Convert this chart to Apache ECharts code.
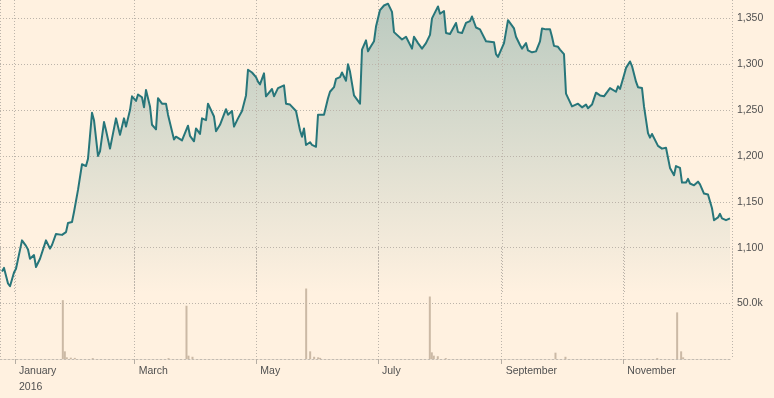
<!DOCTYPE html>
<html>
<head>
<meta charset="utf-8">
<title>Gold 2016</title>
<script src="https://cdn.jsdelivr.net/npm/echarts@6/dist/echarts.min.js"></script>
<style>
  html, body { margin: 0; padding: 0; background: #fff1e0; }
  #main { width: 774px; height: 398px; }
</style>
</head>
<body>
<div id="main"></div>
<script>
// price readings (one per point of the line)
var priceDates = [
  '2015-12-26', '2015-12-27', '2015-12-29', '2015-12-30',
  '2016-01-01', '2016-01-02', '2016-01-05', '2016-01-07', '2016-01-08', '2016-01-09', '2016-01-11', '2016-01-12',
  '2016-01-14', '2016-01-15', '2016-01-17', '2016-01-19', '2016-01-20', '2016-01-22', '2016-01-25', '2016-01-26',
  '2016-01-27', '2016-01-28', '2016-01-30', '2016-01-31',
  '2016-02-02', '2016-02-04', '2016-02-06', '2016-02-07', '2016-02-09', '2016-02-10', '2016-02-12', '2016-02-13',
  '2016-02-15', '2016-02-16', '2016-02-18', '2016-02-21', '2016-02-22', '2016-02-23', '2016-02-25', '2016-02-26',
  '2016-02-28', '2016-02-29',
  '2016-03-02', '2016-03-03', '2016-03-05', '2016-03-06', '2016-03-07', '2016-03-09', '2016-03-10', '2016-03-12',
  '2016-03-13', '2016-03-15', '2016-03-17', '2016-03-18', '2016-03-19', '2016-03-21', '2016-03-22', '2016-03-25',
  '2016-03-28', '2016-03-29', '2016-03-31',
  '2016-04-01', '2016-04-03', '2016-04-04', '2016-04-06', '2016-04-07', '2016-04-08', '2016-04-10', '2016-04-11',
  '2016-04-13', '2016-04-14', '2016-04-16', '2016-04-17', '2016-04-19', '2016-04-20', '2016-04-22', '2016-04-24',
  '2016-04-26', '2016-04-27', '2016-04-29',
  '2016-05-01', '2016-05-02', '2016-05-03', '2016-05-05', '2016-05-06', '2016-05-07', '2016-05-09', '2016-05-10',
  '2016-05-12', '2016-05-13', '2016-05-15', '2016-05-16', '2016-05-18', '2016-05-19', '2016-05-21', '2016-05-23',
  '2016-05-24', '2016-05-25', '2016-05-26', '2016-05-28', '2016-05-29', '2016-05-31',
  '2016-06-01', '2016-06-04', '2016-06-06', '2016-06-07', '2016-06-09', '2016-06-10', '2016-06-12', '2016-06-13',
  '2016-06-15', '2016-06-16', '2016-06-17', '2016-06-19', '2016-06-20', '2016-06-22', '2016-06-23', '2016-06-25',
  '2016-06-26', '2016-06-27', '2016-06-29', '2016-06-30',
  '2016-07-02', '2016-07-04', '2016-07-05', '2016-07-06', '2016-07-08', '2016-07-09', '2016-07-10', '2016-07-13',
  '2016-07-15', '2016-07-16', '2016-07-18', '2016-07-19', '2016-07-21', '2016-07-23', '2016-07-25', '2016-07-27',
  '2016-07-28', '2016-07-29', '2016-07-31',
  '2016-08-01', '2016-08-03', '2016-08-04', '2016-08-06', '2016-08-09', '2016-08-10', '2016-08-12', '2016-08-14',
  '2016-08-16', '2016-08-17', '2016-08-19', '2016-08-21', '2016-08-22', '2016-08-24', '2016-08-25', '2016-08-28',
  '2016-08-29', '2016-08-30', '2016-08-31',
  '2016-09-02', '2016-09-04', '2016-09-05', '2016-09-07', '2016-09-08', '2016-09-10', '2016-09-11', '2016-09-13',
  '2016-09-14', '2016-09-16', '2016-09-18', '2016-09-19', '2016-09-20', '2016-09-21', '2016-09-23', '2016-09-25',
  '2016-09-26', '2016-09-27', '2016-09-29', '2016-09-30',
  '2016-10-02', '2016-10-03', '2016-10-04', '2016-10-06', '2016-10-07', '2016-10-09', '2016-10-11', '2016-10-12',
  '2016-10-13', '2016-10-14', '2016-10-16', '2016-10-18', '2016-10-20', '2016-10-22', '2016-10-23', '2016-10-25',
  '2016-10-26', '2016-10-28', '2016-10-29', '2016-10-30',
  '2016-11-01', '2016-11-02', '2016-11-04', '2016-11-05', '2016-11-07', '2016-11-08', '2016-11-10', '2016-11-11',
  '2016-11-13', '2016-11-14', '2016-11-15', '2016-11-16', '2016-11-18', '2016-11-20', '2016-11-22', '2016-11-23',
  '2016-11-24', '2016-11-26', '2016-11-27', '2016-11-29', '2016-11-30',
  '2016-12-02', '2016-12-03', '2016-12-04', '2016-12-06', '2016-12-08', '2016-12-09', '2016-12-11', '2016-12-12',
  '2016-12-13', '2016-12-15', '2016-12-16', '2016-12-18', '2016-12-19', '2016-12-20', '2016-12-22', '2016-12-23',
  '2016-12-24'
];
var prices = [
  1074, 1078, 1061, 1058,
  1073, 1077, 1108, 1102, 1098, 1088, 1092, 1079,
  1088, 1087, 1108, 1099, 1103, 1115, 1114, 1114,
  1117, 1127, 1128, 1139,
  1163, 1191, 1189, 1197, 1247, 1239, 1200, 1205,
  1237, 1228, 1208, 1241, 1241, 1223, 1241, 1232,
  1250, 1265,
  1260, 1267, 1264, 1253, 1272, 1254, 1234, 1229,
  1263, 1257, 1257, 1245, 1245, 1218, 1221, 1217,
  1233, 1222, 1216,
  1230, 1224, 1241, 1239, 1257, 1256, 1243, 1227,
  1234, 1232, 1251, 1245, 1249, 1232, 1241, 1249,
  1266, 1294, 1291,
  1286, 1281, 1278, 1290, 1265, 1267, 1273, 1265,
  1274, 1275, 1277, 1257, 1256, 1254, 1249, 1228,
  1221, 1230, 1212, 1215, 1212, 1210,
  1245, 1245, 1263, 1270, 1275, 1284, 1286, 1291,
  1282, 1300, 1292, 1266, 1265, 1257, 1316, 1326,
  1314, 1318, 1325, 1341,
  1359, 1364, 1362, 1366, 1357, 1335, 1337, 1327,
  1330, 1331, 1317, 1330, 1323, 1317, 1323, 1332,
  1350, 1352, 1363,
  1355, 1358, 1334, 1333, 1345, 1335, 1334, 1345,
  1347, 1352, 1340, 1338, 1337, 1325, 1323, 1324,
  1311, 1308, 1310,
  1323, 1348, 1346, 1339, 1330, 1321, 1317, 1323,
  1315, 1313, 1314, 1315, 1325, 1339, 1338, 1338,
  1330, 1320, 1319, 1316,
  1311, 1268, 1266, 1254, 1253, 1257, 1253, 1252,
  1256, 1252, 1256, 1269, 1266, 1265, 1263, 1274,
  1272, 1270, 1276, 1273,
  1288, 1296, 1303, 1298, 1281, 1275, 1274, 1254,
  1225, 1220, 1224, 1225, 1211, 1208, 1209, 1209,
  1187, 1179, 1189, 1187, 1171,
  1171, 1175, 1170, 1168, 1172, 1169, 1159, 1161,
  1158, 1143, 1130, 1133, 1137, 1132, 1130, 1128,
  1132
];

// volume readings
var volDates = [
  '2016-01-25', '2016-01-26', '2016-01-27', '2016-01-29', '2016-01-31', '2016-02-09',
  '2016-03-18', '2016-03-27', '2016-03-28', '2016-03-30',
  '2016-05-26', '2016-05-28', '2016-05-30', '2016-06-01', '2016-06-02',
  '2016-07-27', '2016-07-28', '2016-07-29', '2016-07-31', '2016-08-04',
  '2016-09-28', '2016-10-03',
  '2016-11-18', '2016-11-28', '2016-11-30', '2016-12-01'
];
var volumes = [
  53000, 6900, 1500, 1200, 1000, 800,
  800, 48000, 3000, 2000,
  63500, 6900, 2000, 1500, 1000,
  56300, 6000, 3000, 2500, 800,
  5700, 2000,
  800, 42000, 6900, 1500
];

var monthNames = ['January', 'February', 'March', 'April', 'May', 'June',
  'July', 'August', 'September', 'October', 'November', 'December'];

var startTime = +new Date(2015, 11, 25);
var endTime = +new Date(2016, 11, 25);

var gridColor = '#bcb4aa';
var textColor = '#505050';
var fontName = '"Liberation Sans", Arial, sans-serif';
var lineColor = '#27767a';

var priceData = priceDates.map(function (d, i) { return [d, prices[i]]; });

var chart = echarts.init(document.getElementById('main'));

chart.setOption({
  backgroundColor: '#fff1e0',
  animation: false,
  grid: [
    { left: 0, right: 42, top: 0, height: 293.6 },
    { left: 0, right: 42, top: 248, height: 111 }
  ],
  xAxis: [
    {
      type: 'time',
      gridIndex: 0,
      z: 5,
      min: startTime,
      max: endTime,
      axisLine: { show: false },
      axisTick: { show: false },
      axisLabel: { show: false },
      splitLine: { show: true, lineStyle: { color: gridColor, type: [1, 2] } }
    },
    {
      type: 'time',
      gridIndex: 1,
      z: 5,
      min: startTime,
      max: endTime,
      axisLine: { show: true, lineStyle: { color: '#c4bcb2', type: [2, 2] } },
      axisTick: { show: true, length: 5, lineStyle: { color: '#b5ada3' } },
      axisLabel: {
        color: textColor,
        fontFamily: fontName,
        fontSize: 10.5,
        lineHeight: 16,
        align: 'left',
        margin: 4,
        padding: [0, 0, 0, 4],
        formatter: function (value) {
          var d = new Date(value);
          var name = monthNames[d.getMonth()];
          return d.getMonth() === 0 ? name + '\n' + d.getFullYear() : name;
        }
      },
      splitLine: { show: true, lineStyle: { color: gridColor, type: [1, 2] } }
    }
  ],
  yAxis: [
    {
      type: 'value',
      gridIndex: 0,
      z: 5,
      position: 'right',
      min: 1050,
      max: 1370,
      interval: 50,
      axisLine: { show: false },
      axisTick: { show: false },
      axisLabel: {
        showMinLabel: false,
        showMaxLabel: false,
        margin: 5,
        color: textColor,
        fontFamily: fontName,
        fontSize: 10.5
      },
      splitLine: {
        showMinLine: false,
        showMaxLine: false,
        lineStyle: { color: gridColor, type: [1, 2] }
      }
    },
    {
      type: 'value',
      gridIndex: 1,
      z: 5,
      position: 'right',
      min: 0,
      max: 100000,
      interval: 50000,
      axisLine: { show: false },
      axisTick: { show: false },
      axisLabel: {
        margin: 5,
        color: textColor,
        fontFamily: fontName,
        fontSize: 10.5,
        formatter: function (v) { return v === 50000 ? '50.0k' : ''; }
      },
      splitLine: {
        showMinLine: false,
        showMaxLine: false,
        lineStyle: { color: gridColor, type: [1, 2] }
      }
    }
  ],
  series: [
    {
      name: 'Volume',
      type: 'bar',
      xAxisIndex: 1,
      yAxisIndex: 1,
      barWidth: 2,
      z: 6,
      itemStyle: { color: '#cbb9a5' },
      data: volDates.map(function (d, i) { return [d, volumes[i]]; })
    },
    {
      // shaded area under the price, drawn below the grid lines
      name: 'Price area',
      type: 'line',
      xAxisIndex: 0,
      yAxisIndex: 0,
      showSymbol: false,
      z: 1,
      lineStyle: { width: 0 },
      areaStyle: {
        color: new echarts.graphic.LinearGradient(0, 0, 0, 1, [
          { offset: 0, color: 'rgba(39,118,122,0.45)' },
          { offset: 1, color: 'rgba(39,118,122,0)' }
        ])
      },
      data: priceData
    },
    {
      name: 'Price',
      type: 'line',
      xAxisIndex: 0,
      yAxisIndex: 0,
      showSymbol: false,
      z: 10,
      lineStyle: { color: lineColor, width: 2, join: 'round' },
      itemStyle: { color: lineColor },
      data: priceData
    }
  ]
});
</script>
</body>
</html>
